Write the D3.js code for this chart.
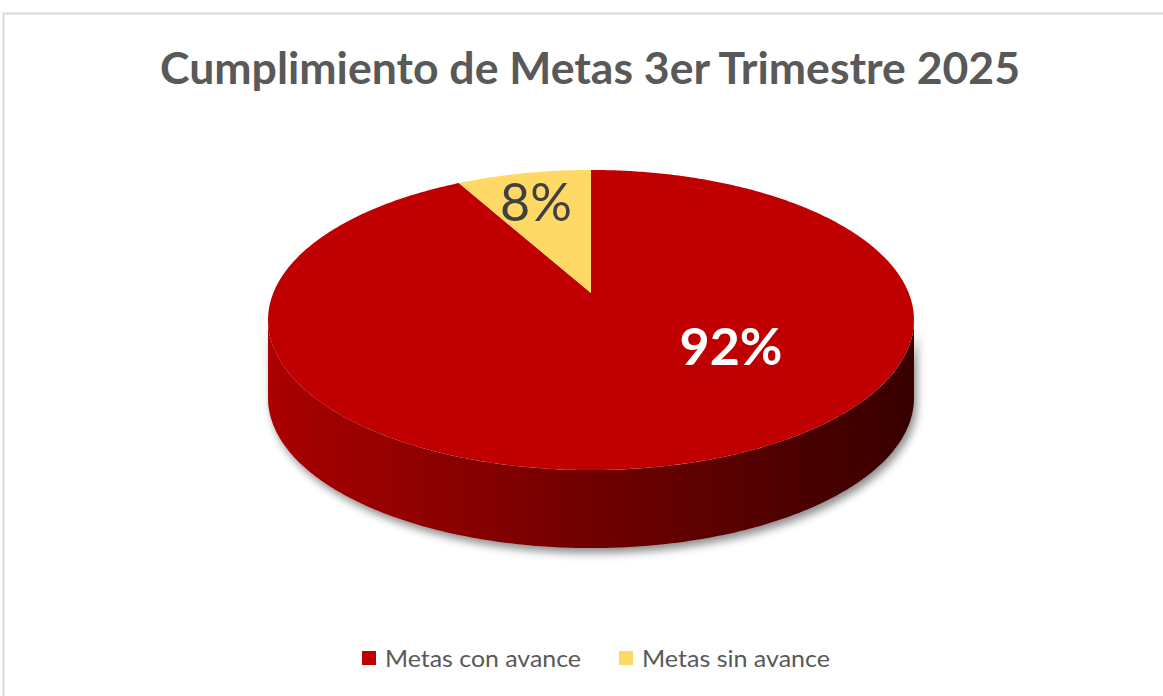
<!DOCTYPE html>
<html>
<head>
<meta charset="utf-8">
<script src="https://cdn.jsdelivr.net/npm/d3@7"></script>
<style>
  body { margin: 0; background: #fff; }
  svg { display: block; }
</style>
</head>
<body>
<svg id="chart" width="1163" height="696"></svg>
<script>
// chart data
const categories = ["Metas con avance", "Metas sin avance"];
const values = [92, 8];
const valueLabels = ["92%", "8%"];
const colors = ["#C00000", "#FFD966"];
const titleText = "Cumplimiento de Metas 3er Trimestre 2025";

const svg = d3.select("#chart");
const W = 1163, H = 696;

// chart frame
svg.append("rect")
    .attr("x", 3.5).attr("y", 13.5)
    .attr("width", W + 10).attr("height", H + 10)
    .attr("fill", "#fff")
    .attr("stroke", "#d9d9d9")
    .attr("stroke-width", 2);

svg.append("text")
    .attr("x", 590).attr("y", 84)
    .attr("text-anchor", "middle")
    .attr("font-family", "Lato, 'Open Sans', sans-serif")
    .attr("font-weight", "bold")
    .attr("font-size", 43)
    .attr("fill", "#595959")
    .attr("textLength", 860)
    .attr("lengthAdjust", "spacingAndGlyphs")
    .text(titleText);

// pie geometry: a tilted disc seen with a little perspective
const cx = 591, cy = 293;       // projected centre of the top face
const rx = 317.7, ry = 145.2;   // disc radii before perspective
const persp = 0.18;             // far side shrinks by this much
const depth = 78;

const defs = svg.append("defs");
const grad = defs.append("linearGradient")
    .attr("id", "sideGrad")
    .attr("gradientUnits", "userSpaceOnUse")
    .attr("x1", cx - 323).attr("x2", cx + 323)
    .attr("y1", 0).attr("y2", 0);
grad.append("stop").attr("offset", "0%").attr("stop-color", "#aa0000");
grad.append("stop").attr("offset", "35%").attr("stop-color", "#820000");
grad.append("stop").attr("offset", "100%").attr("stop-color", "#370000");

const shadow = defs.append("filter")
    .attr("id", "shadow")
    .attr("x", "-10%").attr("y", "-10%")
    .attr("width", "120%").attr("height", "140%");
shadow.append("feDropShadow")
    .attr("dx", 3).attr("dy", 5)
    .attr("stdDeviation", 4)
    .attr("flood-color", "#000")
    .attr("flood-opacity", 0.45);

const pie = d3.pie().sort(null).startAngle(0).endAngle(2 * Math.PI);
const arcs = pie(values);

// point on the rim, angle measured clockwise from 12 o'clock
function rim(a, dz) {
    const u = Math.sin(a), v = Math.cos(a);
    const k = 1 + persp * v;
    return [cx + rx * u / k, cy - ry * v / k + (dz || 0)];
}
const line = d3.line();

function sample(a0, a1) {
    const n = Math.max(2, Math.ceil((a1 - a0) / 0.01));
    return d3.range(n + 1).map(i => a0 + (a1 - a0) * i / n);
}

// the silhouette of the side runs between the widest rim points
const sideStart = Math.acos(-persp);
const sideEnd = 2 * Math.PI - sideStart;

const g = svg.append("g");
const sideG = g.append("g").attr("filter", "url(#shadow)");
arcs.forEach((d, i) => {
    const a0 = Math.max(d.startAngle, sideStart);
    const a1 = Math.min(d.endAngle, sideEnd);
    if (a1 <= a0) return;
    const angs = sample(a0, a1);
    const top = angs.map(a => rim(a));
    const bot = angs.slice().reverse().map(a => rim(a, depth));
    sideG.append("path")
        .attr("d", line(top.concat(bot)) + "Z")
        .attr("fill", i === 0 ? "url(#sideGrad)" : d3.color(colors[i]).darker(1));
});

// top faces
arcs.forEach((d, i) => {
    const pts = [[cx, cy]].concat(sample(d.startAngle, d.endAngle).map(a => rim(a)));
    g.append("path")
        .attr("d", line(pts) + "Z")
        .attr("fill", colors[i]);
});

// value labels
const labelAt = [[731, 365], [536, 221]];
arcs.forEach((d, i) => {
    g.append("text")
        .attr("x", labelAt[i][0])
        .attr("y", labelAt[i][1])
        .attr("text-anchor", "middle")
        .attr("font-family", "Lato, 'Open Sans', sans-serif")
        .attr("font-weight", i === 0 ? "bold" : "normal")
        .attr("font-size", 52)
        .attr("fill", i === 0 ? "#ffffff" : "#404040")
        .text(valueLabels[i]);
});

// legend
const legendItems = [
    { x: 362, textLen: 196 },
    { x: 619, textLen: 188 }
];
const lg = svg.append("g");
categories.forEach((c, i) => {
    lg.append("rect")
        .attr("x", legendItems[i].x).attr("y", 651)
        .attr("width", 14).attr("height", 14)
        .attr("fill", colors[i]);
    lg.append("text")
        .attr("x", legendItems[i].x + 23).attr("y", 667)
        .attr("font-family", "Lato, 'Open Sans', sans-serif")
        .attr("font-size", 24)
        .attr("fill", "#595959")
        .attr("textLength", legendItems[i].textLen)
        .attr("lengthAdjust", "spacingAndGlyphs")
        .text(c);
});
</script>
</body>
</html>
